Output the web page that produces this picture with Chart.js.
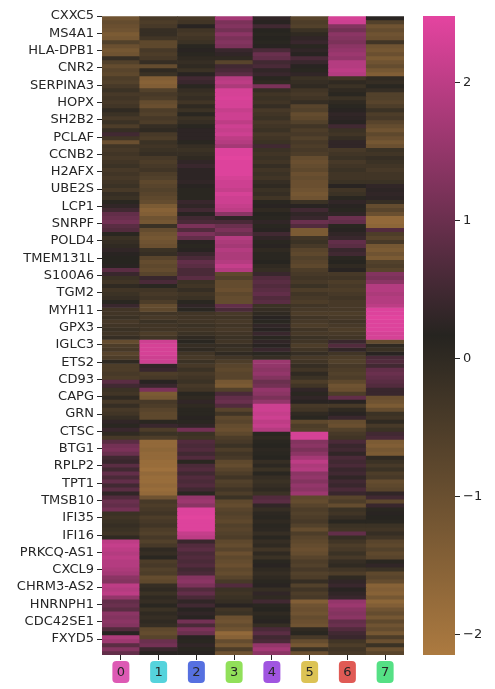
<!DOCTYPE html>
<html>
<head>
<meta charset="utf-8">
<style>
  html, body { margin: 0; padding: 0; background: #fff; }
  #wrap { position: relative; width: 495px; height: 689px; overflow: hidden; }
  canvas { position: absolute; top: 0; }
  #heat { left: 0; }
  #bar { left: 415px; }
</style>
<script src="https://cdn.jsdelivr.net/npm/chart.js@4"></script>
</head>
<body>
<div id="wrap">
  <canvas id="heat" width="495" height="689"></canvas>
  <canvas id="bar" width="80" height="689"></canvas>
</div>
<script>
// Marker genes labelled on the row axis, one label every few rows.
const geneLabels = ['CXXC5','MS4A1','HLA-DPB1','CNR2','SERPINA3','HOPX','SH2B2','PCLAF','CCNB2','H2AFX','UBE2S','LCP1','SNRPF','POLD4','TMEM131L','S100A6','TGM2','MYH11','GPX3','IGLC3','ETS2','CD93','CAPG','GRN','CTSC','BTG1','RPLP2','TPT1','TMSB10','IFI35','IFI16','PRKCQ-AS1','CXCL9','CHRM3-AS2','HNRNPH1','CDC42SE1','FXYD5'];
const clusterNames = ['0','1','2','3','4','5','6','7'];
const clusterColors = ['#dd5ab4','#55d3dc','#5670e0','#91e05a','#a055e0','#dcc355','#e05a55','#55e085'];
const colorbarTicks = [-2, -1, 0, 1, 2];

// Scaled expression per cluster, 160 rows top to bottom.
const cluster0 = [
 -1.1,-0.9,-1.0,-1.1,-1.3,-1.2,-0.6,-1.0,-1.2,-1.1,-0.1,-0.6,-0.9,-0.7,-0.8,-0.5,-0.6,-0.4,-0.2,-0.4,
 -0.3,-0.4,-0.3,0.0,-0.2,-0.4,-0.2,-0.5,-0.1,0.5,-0.3,-1.0,-0.3,-0.4,-0.3,-0.4,-0.3,-0.2,-0.4,-0.3,
 -0.4,-0.3,-0.2,-0.4,-0.1,-0.2,0.1,0.3,0.5,0.9,1.0,1.1,0.8,0.7,0.1,-0.2,-0.1,0.0,0.3,0.2,
 0.15,0.15,0.2,0.8,0.4,-0.2,-0.3,0.0,-0.3,-0.2,-0.1,0.1,0.4,-0.3,-0.3,-0.2,-0.4,-0.3,-0.2,-0.3,
 -0.1,-0.9,-0.5,-0.4,-0.7,-0.5,0.0,-0.5,-0.5,-0.4,-0.5,0.8,0.5,-0.2,-0.3,0.0,-0.4,-0.1,-0.4,-0.3,
 -0.1,0.3,0.1,0.4,0.0,-0.4,0.8,1.1,1.2,1.0,0.5,0.4,0.8,0.5,0.9,0.6,0.9,0.5,0.8,0.3,
 0.7,1.0,0.9,1.1,-0.2,-0.3,-0.2,-0.1,-0.2,-0.3,0.0,2.0,2.1,2.0,1.9,2.0,1.9,1.9,1.8,1.7,
 1.4,1.3,2.0,1.9,2.0,1.5,0.9,1.0,0.8,1.4,1.3,1.4,1.3,0.7,0.2,1.8,1.6,0.8,1.3,0.9];
const cluster1 = [
 -0.4,-0.5,-0.4,-0.1,-0.1,-0.3,-0.8,-0.8,-0.4,-0.5,-0.4,-0.1,-0.9,0.0,-0.2,-1.4,-1.5,-1.4,-0.6,-0.4,
 -0.5,-0.9,-1.0,-0.5,-0.6,-0.4,-0.5,-0.1,0.0,-0.4,-0.5,-0.2,-0.3,-0.2,-0.1,-0.4,-0.5,-0.4,-0.3,-0.5,
 -0.6,-0.8,-0.7,-0.6,-0.7,-0.8,-0.9,-1.3,-1.5,-1.4,-1.1,-1.2,-0.2,-0.9,-1.1,-1.2,-1.1,-1.0,-0.2,-0.1,
 -0.7,-0.9,-0.8,-0.9,-0.7,0.4,0.6,0.1,-0.3,-0.4,-0.3,-0.5,-0.9,-0.8,-0.3,-0.4,-0.2,-0.3,-0.3,-0.5,
 -0.3,2.2,2.3,2.3,2.3,2.2,2.2,0.3,0.4,-0.5,-0.4,0.2,0.4,1.2,-1.3,-1.2,-0.4,-0.5,-0.7,-0.8,
 -0.8,0.1,0.4,-0.5,-0.2,-0.5,-1.7,-1.7,-1.6,-1.7,-1.7,-1.8,-1.8,-1.9,-1.7,-1.8,-1.8,-1.7,-1.8,-1.7,
 -1.1,-0.4,-0.5,-0.4,-0.3,-0.5,-0.4,-0.3,-0.5,-0.6,-0.4,-0.6,-0.4,0.0,-0.1,0.1,-0.5,-0.4,-0.6,-0.5,
 -0.9,-0.8,-0.1,0.0,-0.2,0.0,-0.1,0.1,-0.2,0.0,-0.1,0.0,-0.1,-0.8,-0.9,-0.7,1.0,1.1,0.4,0.2];
const cluster2 = [
 -0.4,-0.3,0.2,-0.3,-0.4,-0.3,-0.2,0.1,0.2,0.1,0.0,-0.1,0.0,-0.2,0.2,0.5,0.4,0.1,-0.1,-0.2,
 -0.1,-0.3,0.0,-0.2,0.1,-0.2,-0.1,0.1,0.25,0.25,0.25,0.1,-0.1,-0.2,-0.1,0.0,0.3,0.4,0.25,0.25,
 0.25,0.3,0.2,0.1,0.1,0.1,0.4,0.3,0.5,0.2,0.5,0.6,1.2,0.7,1.2,0.9,0.2,0.1,0.2,0.4,
 0.6,0.9,0.8,0.6,0.6,0.8,-0.2,-0.3,-0.1,-0.3,-0.2,0.1,0.3,0.1,-0.3,-0.3,-0.3,-0.2,-0.3,-0.2,
 0.0,0.1,-0.1,0.0,-0.3,-0.4,-0.2,-0.4,-0.2,-0.4,-0.3,-0.2,-0.4,-0.3,0.1,0.0,0.3,0.0,0.1,0.1,
 0.2,0.1,0.3,1.1,-0.2,-0.3,0.7,0.6,0.7,0.5,0.7,0.1,0.6,0.7,0.5,0.7,0.6,0.7,0.5,0.1,
 1.5,1.6,1.4,2.4,2.4,2.45,2.4,2.4,2.4,2.1,2.0,0.4,0.7,0.8,0.6,0.7,0.6,0.7,0.5,0.6,
 1.3,1.4,1.2,0.7,0.9,0.6,0.3,0.5,0.2,0.3,0.2,1.1,0.6,1.2,1.0,0.2,0.1,0.3,0.1,0.2];
const cluster3 = [
 1.7,1.2,1.3,1.1,1.4,1.2,1.3,1.2,0.4,0.3,0.0,-0.7,0.5,0.6,0.8,1.9,2.0,1.8,2.3,2.3,
 2.35,2.3,2.3,2.1,2.2,2.2,2.0,2.2,2.1,2.2,2.0,1.9,1.7,2.4,2.4,2.45,2.4,2.4,2.4,2.4,
 2.3,2.2,2.2,2.1,2.3,2.2,2.2,2.1,2.0,1.4,0.3,0.6,1.0,1.2,1.0,1.9,1.8,1.7,1.9,1.8,
 1.8,1.9,2.1,1.9,-0.8,-0.6,-0.9,-0.9,-1.0,-0.8,-0.9,-0.9,0.9,0.6,-0.4,-0.3,-0.4,-0.3,-0.4,-0.3,
 -0.2,-0.3,-0.1,-0.2,0.0,-0.3,-0.5,-0.7,-0.8,-0.7,-0.7,-1.2,-1.3,-0.6,0.6,0.9,1.0,0.7,-0.7,-0.3,
 -0.8,-0.7,-0.9,-1.0,-0.8,-0.5,-0.4,-0.2,-0.5,-0.3,-0.4,-0.8,-0.9,-0.7,-0.5,-0.3,-0.6,-0.5,-0.3,-0.5,
 -0.2,-0.8,-0.9,-0.7,-0.6,-0.7,-0.8,-0.6,-0.7,-0.6,-0.5,-0.8,-0.9,-0.7,-1.0,-0.8,-0.9,-1.0,-0.8,-0.9,
 -0.7,-0.4,0.7,-0.2,-0.3,-0.2,-0.1,0.2,-0.3,-0.2,-1.0,-1.1,-0.9,-1.1,-1.7,-1.5,-0.9,-1.2,-0.5,-1.1];
const cluster4 = [
 0.3,0.2,0.5,0.15,0.1,0.15,0.1,0.2,0.6,1.0,0.9,0.5,0.6,0.3,0.4,0.1,0.0,1.2,-0.1,-0.3,
 -0.2,-0.3,-0.1,-0.4,-0.3,-0.2,-0.4,-0.3,-0.2,-0.4,-0.3,-0.2,0.5,-0.2,-0.3,-0.2,-0.3,-0.1,-0.3,-0.2,
 -0.3,-0.1,0.0,-0.2,-0.1,-0.3,0.1,0.2,0.0,0.15,0.1,0.3,0.1,0.2,0.5,0.3,0.1,0.2,0.0,0.1,
 0.1,0.15,0.0,-0.1,0.4,0.7,0.8,0.7,0.8,0.9,0.7,0.8,-0.2,-0.1,0.0,0.2,0.1,0.3,0.2,0.4,
 0.1,0.3,0.2,0.4,0.1,-0.1,1.6,1.5,1.4,1.5,1.3,1.0,1.1,1.5,1.4,1.2,1.5,2.2,2.2,2.1,
 2.2,2.0,2.1,1.9,0.1,0.0,0.1,0.15,0.05,0.1,0.15,-0.1,0.05,-0.2,0.1,-0.1,-0.2,-0.1,0.0,-0.2,
 0.7,0.8,0.3,-0.1,0.05,0.1,0.0,0.1,0.05,-0.1,0.1,-0.1,0.0,-0.3,0.0,-0.2,0.1,0.2,0.0,-0.1,
 0.0,0.1,0.2,-0.1,0.3,0.0,0.5,0.1,0.15,0.0,0.1,0.2,-0.1,0.6,0.8,0.5,0.6,1.5,1.7,1.4];
const cluster5 = [
 -0.7,-0.5,-0.6,-0.2,0.0,0.3,0.4,0.1,0.3,0.2,0.6,0.4,0.2,0.1,0.3,-0.2,-0.1,0.0,-0.3,-0.4,
 -0.3,-0.1,-0.7,-0.6,-0.9,-0.8,-0.6,-0.3,-0.5,-0.4,-0.6,-0.4,-0.5,-0.4,-0.5,-0.9,-1.0,-0.9,-0.8,-1.0,
 -0.9,-1.0,-1.0,-1.1,-1.2,-1.1,-0.2,0.2,0.5,0.3,0.4,1.0,0.7,-1.3,-1.3,-0.3,-0.2,-0.4,-0.7,-0.8,
 -0.6,-0.7,-0.8,-0.5,-0.4,-0.3,-0.4,-0.2,-0.5,-0.3,-0.4,-0.5,-0.3,-0.4,-0.5,-0.3,-0.4,-0.5,-0.3,-0.4,
 -0.2,-0.3,-0.5,-0.3,-0.1,-0.4,-0.3,-0.1,-0.3,0.0,-0.2,-0.5,-0.3,0.3,0.1,0.3,0.2,-0.4,-0.3,0.0,
 0.1,-0.8,-0.5,-0.6,2.3,2.3,1.3,1.4,1.2,1.4,1.7,2.0,1.8,1.9,1.4,1.5,1.3,1.5,1.4,1.6,
 -0.8,-0.9,-0.7,-0.5,-0.6,-0.5,-0.4,-0.6,-0.9,-0.5,-0.7,-0.8,-0.9,-1.0,-0.9,-0.7,-0.5,-0.6,-0.4,-0.6,
 -0.5,-0.1,-0.6,-0.3,-0.5,-0.4,-1.4,-1.1,-1.0,-1.1,-0.9,-1.0,-1.1,0.0,0.1,-0.4,-0.9,-1.2,-0.2,-1.0];
const cluster6 = [
 2.3,2.2,1.3,1.1,1.4,1.3,1.2,1.4,1.5,1.6,1.5,1.9,1.9,2.0,1.9,-0.3,0.0,-0.2,0.0,0.1,
 -0.2,0.0,0.1,0.2,0.3,0.25,0.2,0.5,-0.2,-0.3,-0.1,0.3,0.3,-0.4,-0.3,-0.2,-0.4,-0.3,-0.2,-0.3,
 -0.3,-0.2,0.2,-0.3,-0.2,0.1,0.3,0.2,0.1,0.3,1.0,0.9,0.1,0.2,0.3,0.4,0.9,0.8,0.4,0.5,
 0.1,0.15,0.0,0.2,-0.4,-0.3,-0.5,-0.4,-0.5,-0.4,-0.3,-0.4,-0.4,-0.4,-0.5,-0.4,-0.3,-0.4,-0.5,-0.4,
 -0.3,0.4,0.7,0.3,-0.3,-0.5,-0.6,-0.4,-0.5,-0.6,-0.5,-0.8,-1.1,-1.0,-0.5,0.9,0.2,-0.4,0.0,0.2,
 0.4,-0.9,-1.0,-0.6,-0.4,-0.3,0.6,0.4,0.5,0.3,0.6,0.5,0.6,0.4,0.5,0.3,0.5,0.4,0.6,0.4,
 -0.7,-0.5,-0.9,-0.2,-0.3,-0.1,0.1,-0.2,-0.3,0.9,-0.1,-0.3,-0.5,-0.4,-0.2,-0.4,-0.1,0.0,-0.3,-0.5,
 0.0,0.3,0.4,0.2,0.3,0.4,1.5,1.6,1.4,1.3,1.4,0.9,1.0,0.7,0.5,0.4,-0.3,-0.5,-0.3,-0.4];
const cluster7 = [
 0.2,-0.6,-1.1,-0.9,-1.1,-1.0,-0.3,-1.1,-1.2,-1.0,-1.3,-1.1,-0.9,-1.2,-1.4,0.0,-0.1,0.1,-0.1,-0.6,
 -0.6,-0.7,-0.5,-0.2,-0.5,-0.4,-0.7,-0.9,-1.1,-0.8,-1.0,-1.2,-1.0,-0.2,-0.3,-0.1,-0.2,-0.3,-0.4,-0.3,
 -0.3,-0.2,0.3,0.25,0.3,0.25,-0.1,-0.9,-0.7,-1.0,-1.7,-1.7,-1.6,0.7,-0.5,-0.7,-0.4,-1.2,-1.3,-1.1,
 -1.3,-0.6,-0.5,-0.7,1.3,1.2,1.4,1.9,1.9,1.8,1.9,1.9,2.0,2.4,2.4,2.45,2.4,2.4,2.4,2.3,
 2.3,-0.9,0.0,-0.2,0.2,0.6,0.7,0.5,0.9,1.0,0.9,0.8,0.7,0.4,0.4,-1.0,-1.1,-1.3,-0.9,-0.2,
 -0.3,0.0,-0.4,-0.2,0.5,0.6,-1.3,-1.4,-1.2,-1.3,0.0,-0.2,-0.4,-0.2,-0.5,-0.4,-0.9,-0.8,-0.7,0.3,
 0.5,-0.8,0.4,0.1,0.2,0.15,0.1,-0.2,-0.3,-0.1,-0.3,-0.7,-0.8,-0.6,-0.8,-0.7,0.1,0.3,-0.2,-0.8,
 -0.7,-0.9,-1.5,-1.4,-1.5,-1.2,-1.6,-1.4,-1.1,-0.9,-1.2,-0.8,-1.1,-0.9,-1.2,-0.5,-1.0,-0.2,-1.0,-0.7];

const clusters = [cluster0, cluster1, cluster2, cluster3, cluster4, cluster5, cluster6, cluster7];

// Diverging colormap with a dark centre.
const vmin = -2.145, vmax = 2.48, vcenter = (vmin + vmax) / 2;
const lowRGB = [172, 122, 64], midRGB = [38, 36, 32], highRGB = [228, 68, 160];
function colorFor(v) {
  const t = Math.max(-1, Math.min(1, (v - vcenter) / (vmax - vcenter)));
  const end = t < 0 ? lowRGB : highRGB;
  const a = Math.abs(t);
  const c = midRGB.map((m, i) => Math.round(m + (end[i] - m) * a));
  return `rgb(${c[0]},${c[1]},${c[2]})`;
}

const rowCount = cluster0.length;
const rowsPerLabel = 13 / 3;
const TEXT = '#262626';
const FONT = { family: '"DejaVu Sans"', size: 13 };
Chart.defaults.animation = false;

// One dataset per row, one floating bar per cluster.
const rowDatasets = [];
for (let r = 0; r < rowCount; r++) {
  rowDatasets.push({
    data: clusters.map(() => [r, r + 1]),
    backgroundColor: clusters.map(c => colorFor(c[r])),
    grouped: false,
    barPercentage: 1,
    categoryPercentage: 1,
    borderWidth: 0
  });
}

// Rounded colour chips behind the cluster tick labels.
const clusterChips = {
  id: 'clusterChips',
  beforeDraw(chart) {
    const { ctx, scales: { x } } = chart;
    ctx.save();
    clusterNames.forEach((_, i) => {
      const cx = x.getPixelForTick(i);
      ctx.beginPath();
      ctx.roundRect(cx - 8.5, 661, 17, 22, 4);
      ctx.fillStyle = clusterColors[i];
      ctx.fill();
    });
    ctx.restore();
  }
};

new Chart(document.getElementById('heat'), {
  type: 'bar',
  data: { labels: clusterNames, datasets: rowDatasets },
  plugins: [clusterChips],
  options: {
    responsive: false,
    devicePixelRatio: 1,
    layout: { padding: { top: 16, right: 91, left: 0, bottom: 0 } },
    plugins: { legend: { display: false }, tooltip: { enabled: false } },
    scales: {
      x: {
        type: 'category',
        afterFit(s) { s.height = 34; },
        border: { display: false },
        grid: { drawOnChartArea: false, drawTicks: true, tickLength: 5, tickColor: TEXT, offset: false },
        ticks: { color: TEXT, font: FONT, padding: 5, maxRotation: 0, autoSkip: false }
      },
      y: {
        type: 'linear',
        reverse: true,
        min: 0,
        max: rowCount,
        afterFit(s) { s.width = 102; },
        afterBuildTicks(s) { s.ticks = geneLabels.map((_, i) => ({ value: i * rowsPerLabel })); },
        border: { display: false },
        grid: { drawOnChartArea: false, drawTicks: true, tickLength: 5, tickColor: TEXT },
        ticks: {
          color: TEXT, font: FONT, padding: 3, autoSkip: false,
          callback(value, i) { return geneLabels[i]; }
        }
      }
    }
  }
});

// Colour scale: one tall bar filled with the same ramp as the cells.
new Chart(document.getElementById('bar'), {
  type: 'bar',
  data: {
    labels: [''],
    datasets: [{
      data: [[vmin, vmax]],
      barPercentage: 1,
      categoryPercentage: 1,
      borderWidth: 0,
      inflateAmount: 0,
      backgroundColor(ctx) {
        const a = ctx.chart.chartArea;
        if (!a) return colorFor(vcenter);
        const g = ctx.chart.ctx.createLinearGradient(0, a.bottom, 0, a.top);
        g.addColorStop(0, colorFor(vmin));
        g.addColorStop(0.5, colorFor(vcenter));
        g.addColorStop(1, colorFor(vmax));
        return g;
      }
    }]
  },
  options: {
    responsive: false,
    devicePixelRatio: 1,
    layout: { padding: { top: 16, left: 8, right: 0, bottom: 34 } },
    plugins: { legend: { display: false }, tooltip: { enabled: false } },
    scales: {
      x: { display: false },
      y: {
        type: 'linear',
        position: 'right',
        min: vmin,
        max: vmax,
        afterFit(s) { s.width = 40; },
        afterBuildTicks(s) { s.ticks = colorbarTicks.map(v => ({ value: v })); },
        border: { display: false },
        grid: { drawOnChartArea: false, drawTicks: true, tickLength: 5, tickColor: TEXT },
        ticks: {
          color: TEXT, font: FONT, padding: 3, autoSkip: false,
          callback(v) { return String(v).replace('-', '\u2212'); }
        }
      }
    }
  }
});
</script>
</body>
</html>
